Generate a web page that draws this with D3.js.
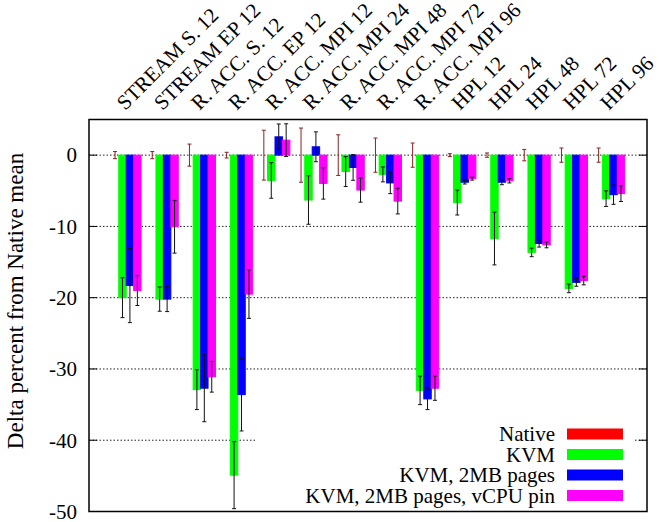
<!DOCTYPE html>
<html lang="en">
<head>
    <meta charset="UTF-8">
    <title>Delta percent from Native mean</title>
    <script type="text/javascript" src="https://d3js.org/d3.v7.min.js"></script>
    <style>
        body { margin: 0; background: #fff; }
        text { font-family: "Liberation Serif", "Times New Roman", serif; fill: #000; }
    </style>
</head>
<body>
    <svg width="659" height="522"></svg>

    <script>
        // benchmark names (top axis)
        var categories = ["STREAM S. 12", "STREAM EP 12", "R. ACC. S. 12", "R. ACC. EP 12",
            "R. ACC. MPI 12", "R. ACC. MPI 24", "R. ACC. MPI 48", "R. ACC. MPI 72", "R. ACC. MPI 96",
            "HPL 12", "HPL 24", "HPL 48", "HPL 72", "HPL 96"];
        var seriesNames = ["Native", "KVM", "KVM, 2MB pages", "KVM, 2MB pages, vCPU pin"];
        var seriesColors = ["#ff0000", "#00ff00", "#0000ff", "#ff00ff"];

        // mean delta (%) and error half-width for each series
        var nativeMean = [0, 0, 0, 0, 0, 0, 0, 0, 0, 0, 0, 0, 0, 0];
        var nativeErr = [0.5, 0.5, 1.55, 0.4, 3.5, 3.8, 2.85, 2.4, 1.7, 0.2, 0.3, 0.8, 1.0, 1.0];
        var kvmMean = [-20.0, -20.2, -32.9, -44.9, -3.55, -6.3, -2.3, -2.7, -33.0, -6.65, -11.7, -13.65, -18.7, -6.1];
        var kvmErr = [2.8, 1.7, 2.8, 4.7, 2.5, 3.4, 2.1, 1.05, 2.0, 1.75, 3.7, 0.6, 0.6, 1.1];
        var hugeMean = [-18.3, -20.2, -32.7, -33.6, 2.57, 1.17, -1.73, -3.9, -34.2, -3.8, -3.8, -12.4, -17.85, -5.55];
        var hugeErr = [5.2, 1.75, 4.7, 5.1, 1.8, 2.1, 1.8, 1.5, 1.5, 0.25, 0.35, 0.5, 0.55, 1.35];
        var pinMean = [-19.0, -10.05, -31.1, -19.5, 2.1, -3.97, -4.9, -6.45, -32.7, -3.3, -3.6, -12.6, -17.6, -5.4];
        var pinErr = [2.1, 3.7, 2.15, 3.4, 2.3, 2.2, 1.7, 1.8, 1.7, 0.2, 0.3, 0.4, 0.6, 1.1];

        var yTicks = [0, -10, -20, -30, -40, -50];

        var means = [nativeMean, kvmMean, hugeMean, pinMean];
        var errs = [nativeErr, kvmErr, hugeErr, pinErr];

        var svg = d3.select("svg");
        var pLeft = 89, pRight = 647, pTop = 119.5, pBottom = 511.5;

        var x = d3.scaleLinear().domain([-1, categories.length]).range([pLeft, pRight]);
        var y = d3.scaleLinear().domain([-50, 5]).range([pBottom, pTop]);
        var barW = 0.2;

        // grid lines behind the bars
        svg.append("g")
            .selectAll("line")
            .data(yTicks)
            .enter()
            .append("line")
            .attr("x1", pLeft).attr("x2", pRight)
            .attr("y1", d => y(d)).attr("y2", d => y(d))
            .attr("stroke", "#222")
            .attr("stroke-width", 1)
            .style("stroke-dasharray", "1.5,2");

        // flatten into one record per bar
        var bars = [];
        categories.forEach(function (c, g) {
            seriesNames.forEach(function (s, i) {
                bars.push({ g: g, i: i, v: means[i][g], e: errs[i][g] });
            });
        });

        var plot = svg.append("g");

        plot.selectAll("rect.bar")
            .data(bars)
            .enter()
            .append("rect")
            .attr("class", "bar")
            .attr("x", d => x(d.g - 0.4 + d.i * barW))
            .attr("width", x(barW) - x(0))
            .attr("y", d => y(Math.max(0, d.v)))
            .attr("height", d => Math.abs(y(d.v) - y(0)))
            .attr("fill", d => seriesColors[d.i])
            .attr("stroke", d => seriesColors[d.i])
            .attr("stroke-width", 1);

        // error bars
        var eb = plot.selectAll("g.err")
            .data(bars)
            .enter()
            .append("g")
            .attr("class", "err")
            .attr("stroke", d => d.i === 0 ? "#8b2020" : "#111")
            .attr("stroke-width", 1);

        var cx = d => x(d.g - 0.4 + d.i * barW + barW / 2);
        eb.append("line")
            .attr("x1", cx).attr("x2", cx)
            .attr("y1", d => y(d.v + d.e)).attr("y2", d => y(d.v - d.e));
        eb.append("line")
            .attr("x1", d => cx(d) - 2).attr("x2", d => cx(d) + 2)
            .attr("y1", d => y(d.v + d.e)).attr("y2", d => y(d.v + d.e));
        eb.append("line")
            .attr("x1", d => cx(d) - 2).attr("x2", d => cx(d) + 2)
            .attr("y1", d => y(d.v - d.e)).attr("y2", d => y(d.v - d.e));

        // legend (opaque box)
        var legend = svg.append("g");
        legend.append("rect")
            .attr("x", 256).attr("y", 418)
            .attr("width", 379).attr("height", pBottom - 419)
            .attr("fill", "#fff");
        seriesNames.forEach(function (s, i) {
            var ly = 434 + i * 20.5;
            legend.append("text")
                .attr("x", 555).attr("y", ly)
                .attr("dy", "0.35em")
                .attr("text-anchor", "end")
                .style("font-size", "21px")
                .text(s);
            legend.append("rect")
                .attr("x", 567).attr("y", ly - 5.5)
                .attr("width", 56).attr("height", 11)
                .attr("fill", seriesColors[i]);
        });

        // y axis ticks (left and mirrored right)
        var yAxis = svg.append("g");
        yTicks.forEach(function (t) {
            yAxis.append("line")
                .attr("x1", pLeft).attr("x2", pLeft + 8)
                .attr("y1", y(t)).attr("y2", y(t))
                .attr("stroke", "#000");
            yAxis.append("line")
                .attr("x1", pRight - 8).attr("x2", pRight)
                .attr("y1", y(t)).attr("y2", y(t))
                .attr("stroke", "#000");
            yAxis.append("text")
                .attr("x", 77).attr("y", y(t))
                .attr("dy", "0.35em")
                .attr("text-anchor", "end")
                .style("font-size", "21px")
                .text(t);
        });

        // top category labels, rotated
        svg.append("g")
            .selectAll("text")
            .data(categories)
            .enter()
            .append("text")
            .attr("transform", (d, g) => "translate(" + (x(g) - 1) + ",111) rotate(-45)")
            .style("font-size", "21px")
            .text(d => d);

        // frame
        svg.append("rect")
            .attr("x", pLeft).attr("y", pTop)
            .attr("width", pRight - pLeft).attr("height", pBottom - pTop)
            .attr("fill", "none")
            .attr("stroke", "#000")
            .attr("stroke-width", 1.5);

        svg.append("text")
            .attr("transform", "translate(23,301) rotate(-90)")
            .attr("text-anchor", "middle")
            .style("font-size", "23px")
            .text("Delta percent from Native mean");
    </script>
</body>
</html>
